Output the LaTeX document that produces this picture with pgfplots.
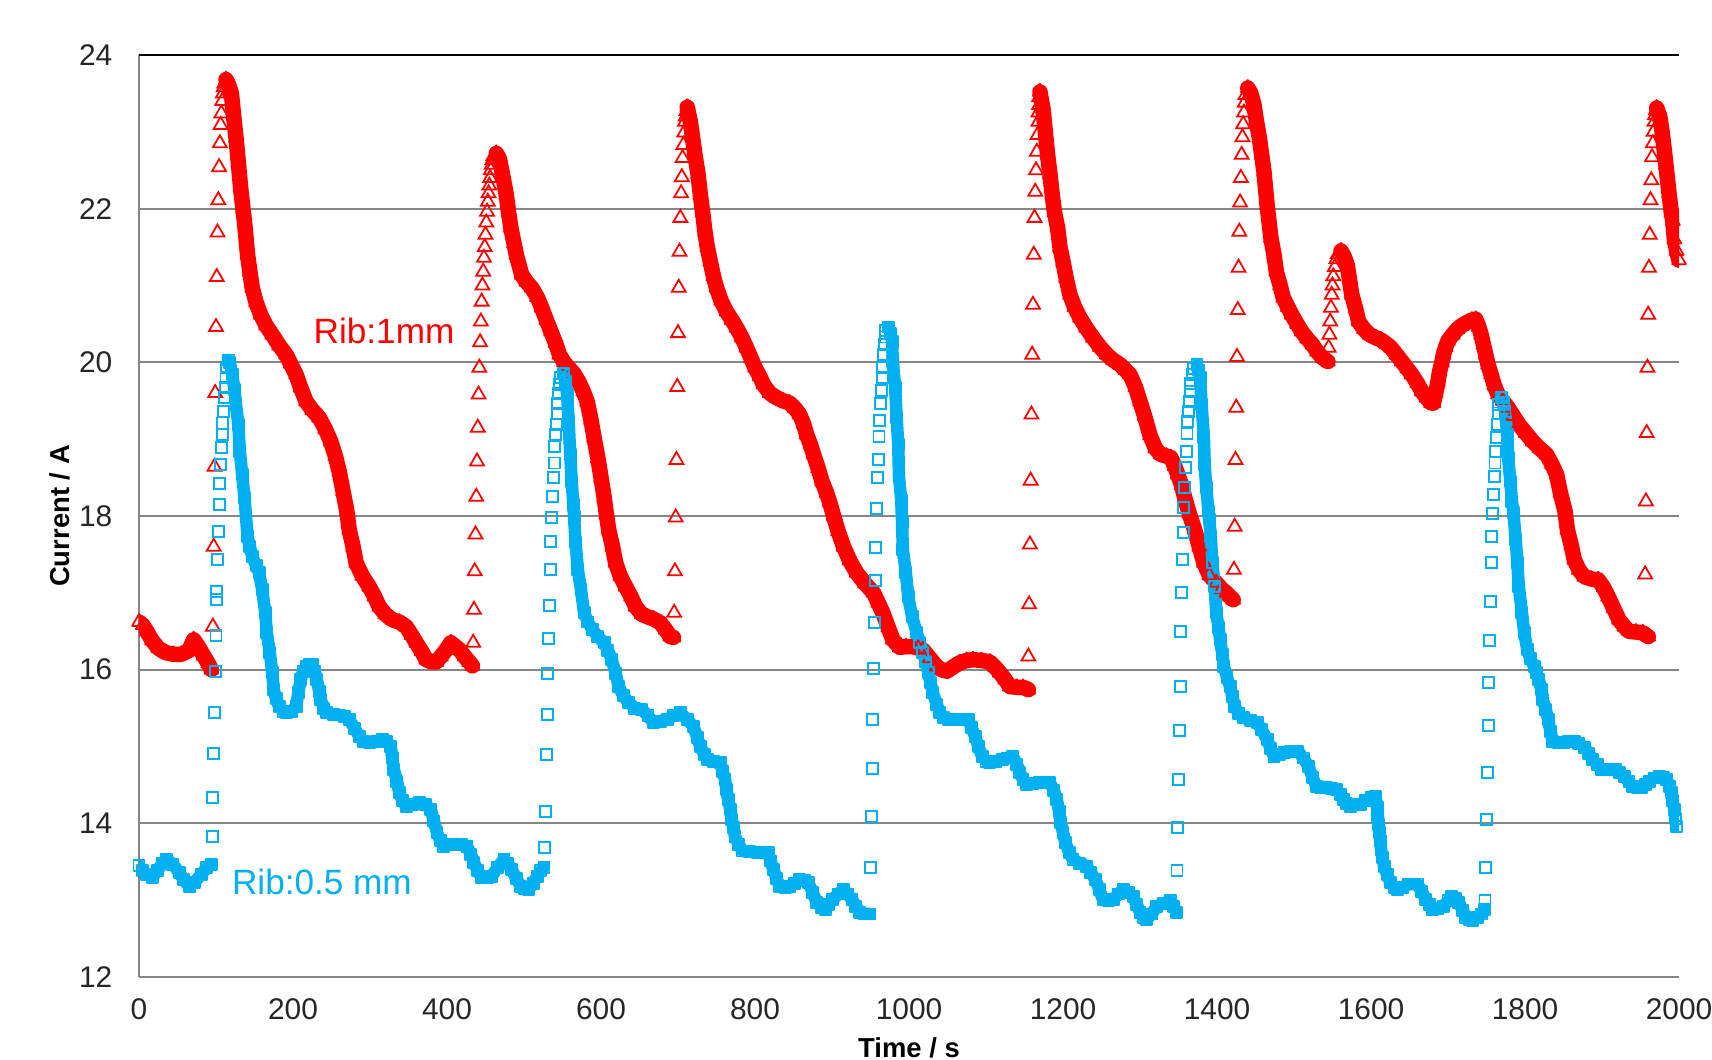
\documentclass[border=0pt]{standalone}
\usepackage{fontspec}
\setmainfont{Liberation Sans}
\usepackage{pgfplots}
\usepackage{pgfplotstable}
\pgfplotsset{compat=1.18}
\definecolor{ribred}{HTML}{FF0000}
\definecolor{ribblue}{HTML}{00B0F0}
\definecolor{gridgray}{HTML}{868686}

% Rib:1mm -- continuous stretches (nan = break before each step rise)
\pgfplotstableread{
t y
0 16.62
5 16.58
10 16.5
17 16.38
25 16.28
35 16.22
45 16.2
55 16.2
65 16.25
71 16.39
77 16.3
84 16.18
90 16.08
94 16.0
nan nan
113 23.68
116 23.62
120 23.5
123 23.2
126 22.92
129 22.6
132 22.27
135 22.0
137 21.83
141 21.4
144 21.18
147 20.97
152 20.78
158 20.62
165 20.48
173 20.36
182 20.22
191 20.1
197 19.98
204 19.84
210 19.67
217 19.49
225 19.38
234 19.28
242 19.13
249 18.97
255 18.78
260 18.58
265 18.32
270 18.06
273 17.82
278 17.6
282 17.39
290 17.22
299 17.08
306 16.95
312 16.82
320 16.72
329 16.65
338 16.62
347 16.56
354 16.45
360 16.35
367 16.24
373 16.13
380 16.1
386 16.1
392 16.17
399 16.26
405 16.35
410 16.31
416 16.26
423 16.17
429 16.1
433 16.05
nan nan
464 22.72
468 22.65
472 22.45
477 22.18
480 21.95
483 21.75
487 21.55
490 21.4
497 21.14
503 21.05
510 20.97
517 20.85
523 20.71
529 20.55
535 20.4
541 20.25
546 20.1
552 20.0
558 19.93
565 19.85
571 19.75
577 19.62
582 19.49
587 19.25
591 19.02
596 18.75
600 18.5
604 18.25
607 18.02
610 17.82
615 17.6
619 17.39
625 17.22
632 17.08
639 16.95
645 16.82
653 16.72
660 16.69
668 16.66
677 16.61
684 16.52
690 16.43
694 16.42
nan nan
712 23.32
716 23.13
719 22.92
722 22.7
726 22.45
729 22.18
732 21.95
735 21.7
738 21.5
742 21.31
746 21.12
750 20.97
756 20.8
763 20.66
770 20.55
776 20.45
783 20.32
789 20.19
795 20.05
800 19.93
806 19.82
811 19.71
819 19.6
828 19.54
836 19.5
845 19.47
852 19.4
858 19.32
863 19.2
867 19.06
872 18.93
876 18.8
882 18.62
887 18.45
893 18.3
897 18.18
902 18.0
908 17.8
915 17.6
923 17.42
932 17.26
943 17.12
954 17.0
960 16.87
966 16.74
973 16.55
979 16.39
988 16.29
996 16.3
1005 16.3
1012 16.28
1018 16.26
1027 16.15
1036 16.04
1042 16.0
1049 15.98
1058 16.04
1066 16.09
1075 16.12
1083 16.13
1094 16.12
1105 16.1
1112 16.03
1118 15.96
1125 15.87
1131 15.78
1140 15.77
1148 15.77
1155 15.74
nan nan
1170 23.52
1174 23.3
1177 23.0
1180 22.7
1183 22.45
1186 22.18
1189 21.95
1193 21.75
1196 21.5
1200 21.31
1204 21.1
1209 20.88
1215 20.72
1222 20.58
1230 20.45
1239 20.32
1248 20.2
1257 20.1
1265 20.03
1274 19.97
1281 19.9
1287 19.84
1294 19.68
1300 19.49
1306 19.3
1313 19.05
1320 18.88
1327 18.8
1334 18.78
1340 18.76
1345 18.65
1349 18.54
1354 18.4
1358 18.24
1364 18.03
1371 17.82
1377 17.6
1383 17.39
1390 17.23
1399 17.13
1406 17.05
1412 17.0
1417 16.95
1421 16.91
nan nan
1440 23.57
1444 23.5
1448 23.35
1451 23.15
1455 22.92
1458 22.7
1461 22.48
1465 22.05
1470 21.62
1474 21.4
1477 21.18
1482 21.0
1486 20.84
1492 20.72
1497 20.62
1504 20.5
1510 20.4
1517 20.31
1524 20.23
1530 20.14
1537 20.06
1544 20.01
nan nan
1561 21.45
1565 21.38
1569 21.27
1572 21.08
1575 20.88
1580 20.7
1584 20.53
1591 20.43
1598 20.36
1606 20.32
1613 20.29
1620 20.24
1626 20.19
1633 20.1
1640 20.01
1647 19.92
1653 19.84
1660 19.73
1666 19.62
1672 19.54
1678 19.47
1681 19.47
1684 19.6
1687 19.75
1689 19.88
1692 20.0
1694 20.1
1697 20.2
1700 20.28
1706 20.36
1712 20.43
1718 20.48
1725 20.52
1731 20.55
1736 20.56
1740 20.46
1743 20.36
1746 20.23
1749 20.1
1752 19.97
1756 19.84
1760 19.7
1765 19.58
1771 19.5
1778 19.41
1785 19.3
1792 19.19
1801 19.08
1810 18.97
1819 18.88
1828 18.8
1835 18.67
1841 18.54
1846 18.3
1852 18.06
1855 17.82
1860 17.62
1864 17.43
1870 17.3
1877 17.21
1886 17.18
1895 17.17
1902 17.07
1908 16.95
1915 16.8
1922 16.65
1929 16.56
1935 16.5
1944 16.49
1953 16.48
1960 16.43
nan nan
1971 23.31
1975 23.2
1978 23.0
1981 22.75
1983 22.57
1987 22.2
1990 21.95
1992 21.84
1994 21.6
1997 21.45
2000 21.33
}\redband

% Rib:1mm -- isolated points of the step rises
\pgfplotstableread{
t y
96 16.56
97 17.6
98 18.64
99 19.6
100 20.46
101 21.11
102 21.69
103 22.11
104 22.54
105 22.85
106 23.09
107 23.24
108 23.4
109 23.5
110 23.58
111 23.63
434 16.35
435 16.78
436 17.28
437 17.76
438 18.25
439 18.71
440 19.15
441 19.58
442 19.93
443 20.26
444 20.53
445 20.79
446 21.0
447 21.18
448 21.36
449 21.5
450 21.66
451 21.82
452 21.96
453 22.09
454 22.2
455 22.3
456 22.4
457 22.5
458 22.57
459 22.63
460 22.68
695 16.74
696 17.28
697 17.98
698 18.73
699 19.68
700 20.38
701 20.97
702 21.44
703 21.88
704 22.2
705 22.41
706 22.66
707 22.83
708 22.99
709 23.13
710 23.2
711 23.27
1155 16.17
1156 16.85
1157 17.63
1158 18.46
1159 19.32
1160 20.1
1161 20.75
1162 21.4
1163 21.88
1164 22.22
1165 22.5
1166 22.74
1167 22.96
1168 23.13
1168 23.25
1169 23.35
1169 23.45
1422 17.3
1423 17.86
1424 18.73
1425 19.41
1426 20.07
1427 20.68
1428 21.23
1429 21.7
1430 22.08
1431 22.4
1432 22.7
1433 22.93
1434 23.1
1435 23.25
1436 23.38
1437 23.48
1545 20.19
1546 20.36
1547 20.53
1548 20.71
1549 20.88
1550 21.0
1551 21.12
1553 21.24
1555 21.34
1557 21.41
1956 17.24
1957 18.19
1958 19.08
1959 19.93
1960 20.62
1961 21.23
1962 21.66
1963 22.11
1964 22.37
1965 22.67
1966 22.85
1967 23.0
1968 23.13
1969 23.22
1970 23.28
}\redrise

% Rib:0.5 mm -- continuous stretches
\pgfplotstableread{
t y
0 13.45
5 13.38
10 13.33
17 13.3
24 13.38
30 13.48
36 13.53
44 13.47
52 13.36
58 13.27
65 13.18
72 13.23
81 13.34
88 13.42
94 13.47
nan nan
116 20.03
118 20.0
121 19.84
124 19.65
126 19.45
129 19.19
131 18.84
134 18.54
137 18.24
139 17.99
141 17.73
144 17.6
147 17.47
152 17.36
156 17.26
160 17.04
164 16.74
166 16.48
170 16.22
173 15.96
175 15.74
178 15.62
182 15.52
187 15.46
192 15.44
198 15.46
204 15.52
207 15.7
210 15.87
213 15.97
217 16.04
221 16.07
225 16.07
228 15.98
231 15.87
234 15.72
236 15.61
240 15.5
244 15.44
252 15.42
260 15.41
267 15.39
273 15.35
280 15.24
286 15.13
292 15.06
299 15.05
308 15.07
316 15.09
322 15.06
327 15.0
329 14.85
331 14.7
335 14.55
338 14.4
342 14.3
347 14.22
355 14.25
364 14.27
372 14.24
379 14.18
383 14.03
387 13.88
391 13.78
396 13.7
404 13.72
412 13.73
419 13.72
426 13.7
431 13.6
435 13.49
440 13.38
445 13.3
452 13.3
458 13.31
466 13.43
474 13.53
479 13.48
484 13.4
490 13.28
496 13.18
501 13.15
506 13.14
512 13.22
517 13.31
522 13.38
526 13.43
nan nan
551 19.86
554 19.75
556 19.58
558 19.23
560 18.8
562 18.45
564 18.15
565 17.99
567 17.65
570 17.3
574 17.04
578 16.74
583 16.62
589 16.52
596 16.43
604 16.35
609 16.25
614 16.13
619 15.95
623 15.78
629 15.66
636 15.57
644 15.5
653 15.48
661 15.4
668 15.31
677 15.33
686 15.35
694 15.4
703 15.44
712 15.35
720 15.26
725 15.12
729 15.0
734 14.9
738 14.83
746 14.8
755 14.79
758 14.68
761 14.57
763 14.44
765 14.31
768 14.18
770 14.05
772 13.94
774 13.83
779 13.72
784 13.64
793 13.63
803 13.62
810 13.62
817 13.62
820 13.51
824 13.4
828 13.28
832 13.18
839 13.17
845 13.18
851 13.22
858 13.27
864 13.25
869 13.23
875 13.1
880 12.97
886 12.91
891 12.88
896 12.94
901 13.01
908 13.08
915 13.14
920 13.08
926 13.01
931 12.92
936 12.84
942 12.82
949 12.82
nan nan
973 20.46
976 20.38
978 20.27
979 20.01
982 19.67
984 19.28
986 18.93
987 18.51
990 18.2
991 17.91
992 17.56
996 17.26
999 16.95
1004 16.69
1010 16.48
1014 16.35
1018 16.22
1022 16.1
1025 15.96
1028 15.83
1031 15.7
1036 15.55
1040 15.44
1045 15.38
1051 15.35
1058 15.35
1066 15.35
1072 15.35
1077 15.35
1081 15.25
1086 15.13
1090 15.0
1095 14.87
1100 14.81
1105 14.79
1113 14.81
1121 14.83
1128 14.85
1135 14.87
1140 14.77
1144 14.66
1148 14.57
1153 14.51
1161 14.52
1170 14.53
1177 14.53
1183 14.53
1188 14.43
1192 14.31
1195 14.15
1197 14.01
1200 13.88
1203 13.75
1208 13.62
1213 13.53
1222 13.48
1231 13.44
1236 13.36
1242 13.27
1247 13.14
1252 13.01
1259 13.0
1265 13.01
1272 13.08
1278 13.14
1285 13.1
1291 13.05
1296 12.94
1300 12.84
1305 12.78
1309 12.75
1315 12.82
1322 12.92
1331 12.96
1340 12.99
1344 12.92
1347 12.84
nan nan
1374 19.97
1376 19.9
1378 19.8
1380 19.45
1383 19.02
1384 18.67
1386 18.37
1389 18.06
1390 17.95
1392 17.73
1394 17.39
1397 17.08
1399 16.74
1402 16.55
1404 16.39
1407 16.2
1409 16.04
1413 15.9
1417 15.78
1420 15.65
1423 15.52
1428 15.43
1434 15.38
1443 15.34
1452 15.31
1458 15.22
1465 15.09
1470 14.97
1474 14.87
1481 14.9
1488 14.92
1496 14.93
1505 14.94
1512 14.85
1519 14.74
1524 14.6
1529 14.48
1535 14.47
1542 14.47
1549 14.45
1555 14.44
1560 14.37
1564 14.31
1568 14.26
1573 14.22
1580 14.24
1586 14.25
1593 14.3
1600 14.34
1606 14.35
1608 14.2
1609 14.09
1610 13.98
1611 13.88
1612 13.77
1613 13.66
1615 13.55
1617 13.44
1621 13.33
1625 13.23
1630 13.17
1634 13.14
1641 13.17
1649 13.21
1655 13.21
1660 13.21
1666 13.11
1671 13.01
1676 12.94
1680 12.88
1687 12.89
1694 12.92
1700 12.99
1705 13.05
1710 13.02
1714 12.97
1719 12.87
1723 12.78
1728 12.75
1732 12.73
1738 12.77
1743 12.82
1747 12.88
nan nan
1770 19.54
1772 19.48
1774 19.36
1777 19.06
1778 18.76
1781 18.45
1783 18.19
1785 18.04
1788 17.69
1790 17.39
1792 17.08
1796 16.74
1799 16.48
1803 16.26
1807 16.14
1812 16.04
1815 15.96
1818 15.87
1821 15.74
1823 15.61
1827 15.48
1830 15.35
1833 15.2
1836 15.07
1843 15.05
1850 15.05
1857 15.06
1864 15.07
1870 15.04
1877 14.99
1883 14.91
1888 14.83
1894 14.76
1899 14.7
1908 14.7
1917 14.7
1923 14.66
1929 14.61
1935 14.54
1940 14.48
1946 14.47
1951 14.47
1957 14.51
1962 14.55
1968 14.59
1975 14.61
1980 14.6
1984 14.57
1988 14.48
1990 14.4
1992 14.3
1994 14.18
1995 14.06
1997 13.96
}\blueband

% Rib:0.5 mm -- isolated points of the step rises
\pgfplotstableread{
t y
95 13.83
96 14.34
97 14.91
98 15.44
99 15.98
100 16.45
101 16.91
101 17.02
102 17.43
103 17.8
104 18.15
105 18.42
106 18.67
107 18.89
108 19.06
109 19.21
110 19.36
111 19.54
112 19.67
113 19.8
114 19.93
527 13.69
528 14.16
529 14.9
530 15.42
531 15.95
532 16.41
533 16.83
534 17.3
535 17.67
536 17.98
537 18.25
538 18.5
539 18.69
540 18.9
541 19.06
542 19.19
543 19.34
544 19.47
545 19.6
546 19.71
547 19.8
950 13.43
951 14.09
952 14.71
953 15.35
954 16.02
955 16.61
956 17.16
957 17.59
958 18.1
959 18.5
960 18.73
961 19.03
962 19.24
963 19.47
964 19.63
965 19.8
966 19.93
967 20.1
968 20.23
969 20.33
970 20.42
1348 13.38
1349 13.95
1350 14.57
1351 15.21
1352 15.78
1353 16.5
1354 17.0
1355 17.43
1356 17.78
1357 18.11
1358 18.37
1359 18.63
1360 18.84
1361 19.07
1362 19.23
1363 19.36
1364 19.49
1365 19.62
1366 19.73
1368 19.84
1370 19.92
1748 13.0
1749 13.43
1750 14.05
1751 14.66
1752 15.27
1753 15.83
1754 16.38
1755 16.89
1756 17.39
1757 17.73
1758 18.03
1759 18.28
1760 18.51
1761 18.69
1762 18.84
1763 19.02
1764 19.19
1765 19.34
1766 19.45
}\bluerise

\begin{document}
\begin{tikzpicture}
\begin{axis}[
  name=ax,
  scale only axis,
  width=154mm, height=92.2mm,
  xmin=0, xmax=2000, ymin=12, ymax=24,
  xtick={0,200,...,2000},
  ytick={12,14,...,22},
  extra y ticks={24},
  extra y tick style={ymajorgrids=true, major grid style={black, line width=0.6pt}},
  ymajorgrids,
  major grid style={gridgray, line width=0.55pt},
  axis x line*=bottom, axis y line*=left,
  axis line style={gridgray, line width=0.55pt},
  major tick length=0pt,
  /pgf/number format/assume math mode=true,
  /pgf/number format/1000 sep={},
  tick label style={font=\fontsize{8.5}{10}\selectfont, text=black!85},
  yticklabel style={anchor=east, inner sep=0pt, xshift=-2.6mm},
  xticklabel style={anchor=north, inner sep=0pt, yshift=-2.1mm},
  xlabel={Time / s}, ylabel={Current / A},
  label style={font=\fontsize{7.8}{9}\selectfont\bfseries, text=black},
  xlabel style={at={(axis description cs:0.5,0)}, anchor=center, yshift=-7.1mm},
  ylabel style={at={(axis description cs:0,0.5)}, anchor=center, yshift=7.9mm},
  unbounded coords=jump,
]
\addplot[ribred, line width=1.55mm, line join=round, line cap=round,
  mark=triangle, mark size=0.8mm, mark options={solid, line width=0.5pt}]
  table {\redband};
\addplot[ribred, only marks, mark=triangle, mark size=0.8mm,
  mark options={solid, line width=0.5pt}]
  table {\redrise};
\addplot[ribblue, line width=1.25mm, line join=round, line cap=round,
  mark=square, mark size=0.55mm, mark options={solid, line width=0.55pt}]
  table {\blueband};
\addplot[ribblue, only marks, mark=square, mark size=0.55mm,
  mark options={solid, line width=0.55pt}]
  table {\bluerise};

\node[anchor=base west, inner sep=0pt, text=ribred, font=\fontsize{10}{12}\selectfont]
  at (axis cs:226,20.25) {Rib:1mm};
\node[anchor=base west, inner sep=0pt, text=ribblue, font=\fontsize{10}{12}\selectfont]
  at (axis cs:120,13.08) {Rib:0.5 mm};
\end{axis}
\pgfresetboundingbox
\path[use as bounding box] ([xshift=-13.9mm,yshift=-8.3mm]ax.south west)
  rectangle ([xshift=3.3mm,yshift=5.5mm]ax.north east);
\end{tikzpicture}
\end{document}
